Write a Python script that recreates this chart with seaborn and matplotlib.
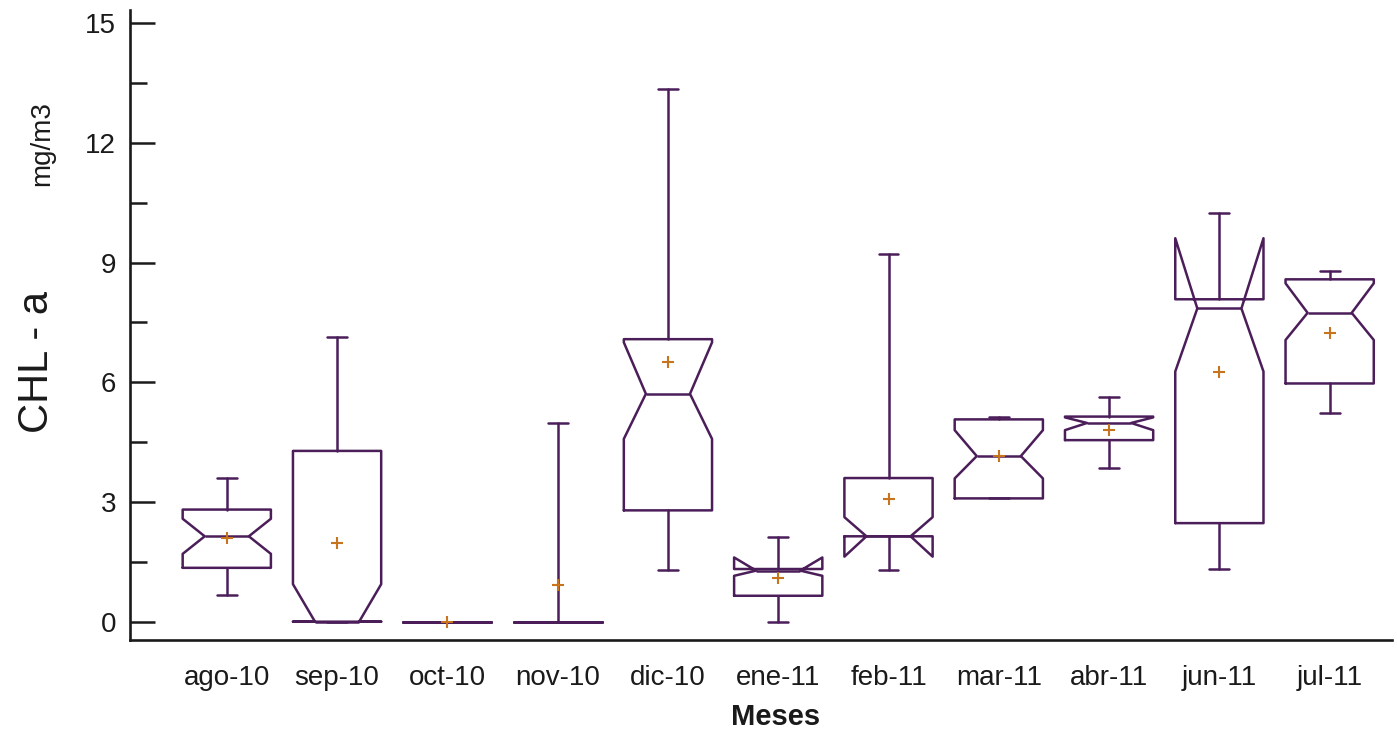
import seaborn as sns
import numpy as np
import matplotlib.pyplot as plt
from matplotlib.ticker import MultipleLocator

# meses y estadisticos (mg/m3)
meses = ["ago-10", "sep-10", "oct-10", "nov-10", "dic-10", "ene-11",
         "feb-11", "mar-11", "abr-11", "jun-11", "jul-11"]
minimo = [0.68, 0.00, 0.00, 0.00, 1.30, 0.00, 1.30, 3.09, 3.84, 1.31, 5.22]
q1 = [1.35, 0.00, 0.00, 0.00, 2.79, 0.65, 2.14, 3.09, 4.55, 2.47, 5.97]
mediana = [2.14, 0.00, 0.00, 0.00, 5.71, 1.28, 2.14, 4.15, 4.98, 7.85, 7.74]
q3 = [2.81, 4.28, 0.00, 0.00, 7.08, 1.32, 3.60, 5.07, 5.14, 8.08, 8.58]
maximo = [3.61, 7.13, 0.00, 4.99, 13.36, 2.12, 9.21, 5.12, 5.64, 10.25, 8.80]
muesca_inf = [1.70, 0.00, 0.00, 0.00, 4.58, 1.15, 1.63, 3.59, 4.80, 6.27, 7.06]
muesca_sup = [2.58, 0.94, 0.00, 0.00, 7.00, 1.61, 2.62, 4.80, 5.12, 9.61, 8.48]
media = [2.10, 1.97, 0.00, 0.91, 6.50, 1.10, 3.07, 4.15, 4.80, 6.27, 7.24]

morado = "#4b1e5a"
naranja = "#c8741e"
negro = "#1a1a1a"

sns.set_style("white")
plt.rcParams["font.family"] = ["Liberation Sans", "DejaVu Sans"]

fig = plt.figure(figsize=(13.97, 7.34), dpi=100)
ax = fig.add_axes([0.0931, 0.128, 0.9033, 0.8584])

stats = []
for i in range(len(meses)):
    stats.append({"label": meses[i], "whislo": minimo[i], "q1": q1[i],
                  "med": mediana[i], "q3": q3[i], "whishi": maximo[i],
                  "cilo": muesca_inf[i], "cihi": muesca_sup[i],
                  "mean": media[i], "fliers": []})

ancho = 0.8
lineas = dict(color=morado, linewidth=1.8)
res = ax.bxp(stats, positions=np.arange(len(meses)), widths=ancho,
             capwidths=ancho * 0.62, shownotches=True, showmeans=True,
             showfliers=False, patch_artist=False,
             boxprops=lineas, whiskerprops=lineas, capprops=lineas,
             medianprops=lineas,
             meanprops=dict(marker="+", markeredgecolor=naranja,
                            markersize=9, markeredgewidth=1.5))

# topes de bigote mas cortos que la muesca
for cap in res["caps"]:
    xs = cap.get_xdata()
    c = (xs[0] + xs[1]) / 2
    cap.set_xdata([c - 0.09, c + 0.09])

ax.set_xlim(-0.877, 10.565)
ax.set_ylim(-0.46, 15.33)
ax.yaxis.set_major_locator(MultipleLocator(3))
ax.yaxis.set_minor_locator(MultipleLocator(1.5))
ax.tick_params(axis="y", which="major", direction="in", length=18, width=1.8,
               color=negro, labelcolor=negro, labelsize=20, pad=10, left=True)
ax.tick_params(axis="y", which="minor", direction="in", length=12, width=1.8,
               color=negro, left=True)
ax.tick_params(axis="x", length=0, labelsize=20, pad=18, labelcolor=negro)
ax.set_xticks(np.arange(len(meses)), meses)

sns.despine(ax=ax)
for lado in ["left", "bottom"]:
    ax.spines[lado].set_color(negro)
    ax.spines[lado].set_linewidth(1.9)

fig.text(0.0265, 0.507, "CHL - a", rotation=90, fontsize=30,
         ha="center", va="center", color=negro)
fig.text(0.030, 0.805, "mg/m3", rotation=90, fontsize=20,
         ha="center", va="center", color=negro)
fig.text(0.555, 0.023, "Meses", fontsize=21, fontweight="bold",
         ha="center", va="center", color=negro)

plt.savefig("out.png", dpi=100)
